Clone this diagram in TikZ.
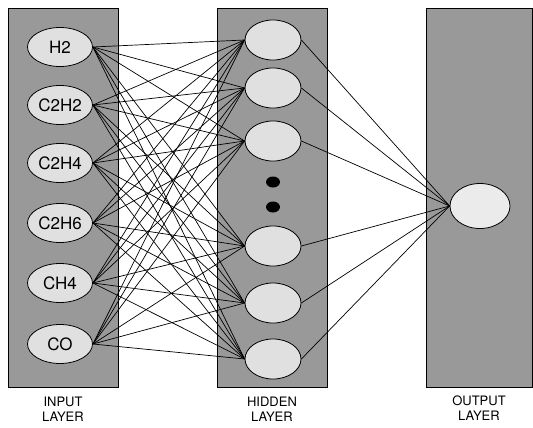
\documentclass[tikz,border=0pt]{standalone}
\usepackage{fontspec}
\setmainfont{TeX Gyre Heros}
\usetikzlibrary{shapes.geometric}
\begin{document}
\begin{tikzpicture}[x=1pt, y=-1pt, line width=.7pt,
  panel/.style={draw, fill=black!40, line width=.8pt},
  innode/.style={ellipse, draw, fill=black!12, line width=.8pt, inner sep=0pt,
    minimum width=65pt, minimum height=39pt, font=\fontsize{17}{19}\selectfont},
  hidnode/.style={ellipse, draw, fill=black!12, line width=.8pt, inner sep=0pt,
    minimum width=56pt, minimum height=40pt},
  outnode/.style={ellipse, draw, fill=black!8, line width=.8pt, inner sep=0pt,
    minimum width=60pt, minimum height=45pt},
  laylabel/.style={align=center, font=\fontsize{13}{15}\selectfont}]
\useasboundingbox (0,0) rectangle (533,428);
% the three layers
\draw[panel] (8,8) rectangle (118,387);
\draw[panel] (217,8) rectangle (327,387);
\draw[panel] (426,8) rectangle (532,387);
% input layer
\node[innode] (i1) at (60,47) {H2};
\node[innode] (i2) at (60,105) {C2H2};
\node[innode] (i3) at (60,163) {C2H4};
\node[innode] (i4) at (60,223) {C2H6};
\node[innode] (i5) at (60,283) {CH4};
\node[innode] (i6) at (60,344) {CO};
% hidden layer
\foreach \y [count=\i] in {40,88,141,246,303,359}
  \node[hidnode] (h\i) at (273,\y) {};
\fill (273,182) ellipse (7 and 5.5);
\fill (273,207) ellipse (7 and 5.5);
% output layer
\node[outnode] (o) at (480,206) {};
% weights
\foreach \a in {1,...,6}
  \foreach \b in {1,...,6}
    \draw (i\a.east) -- (h\b.west);
\foreach \b in {1,...,6}
  \draw (h\b.east) -- (o.west);
\node[laylabel] (inlbl) at (63,409) {INPUT\\LAYER};
\node[laylabel] (hidlbl) at (272,409) {HIDDEN\\LAYER};
\node[laylabel] (outlbl) at (479,408) {OUTPUT\\LAYER};
\end{tikzpicture}
\end{document}
